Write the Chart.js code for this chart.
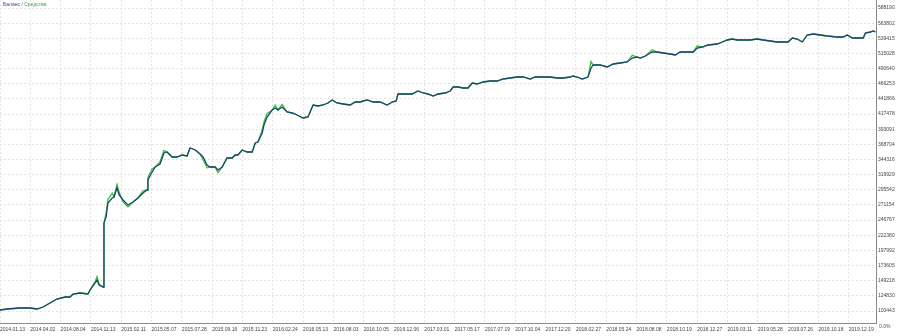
<!DOCTYPE html>
<html>
<head>
<meta charset="utf-8">
<script src="https://cdn.jsdelivr.net/npm/chart.js@4.4.1/dist/chart.umd.min.js"></script>
<style>
html, body { margin: 0; padding: 0; background: #fff; }
</style>
</head>
<body>
<canvas id="graf-balance" width="899" height="336"></canvas>
<script>
// номер сделки (ось X)
const deals = [0, 23, 66, 99, 122, 142, 165, 188, 215, 231, 241, 264, 290, 297, 314, 320, 327, 340, 343, 350,
    356, 370, 376, 386, 393, 406, 422, 439, 455, 472, 485, 488, 502, 512, 528, 541, 551, 568, 584, 601,
    617, 627, 644, 660, 670, 683, 693, 710, 719, 733, 749, 766, 776, 785, 799, 815, 832, 842, 851, 865,
    871, 881, 898, 908, 917, 931, 947, 964, 980, 1000, 1016, 1033, 1049, 1066, 1082, 1096, 1112, 1132, 1155, 1172,
    1188, 1211, 1231, 1254, 1277, 1294, 1307, 1313, 1330, 1360, 1379, 1396, 1412, 1429, 1445, 1469, 1485, 1495, 1511, 1528,
    1544, 1558, 1574, 1594, 1617, 1640, 1660, 1683, 1706, 1726, 1749, 1766, 1792, 1815, 1838, 1858, 1881, 1891, 1904, 1921,
    1940, 1950, 1957, 1980, 2003, 2023, 2046, 2069, 2086, 2102, 2112, 2129, 2152, 2168, 2188, 2211, 2228, 2244, 2267, 2287,
    2300, 2317, 2336, 2366, 2383, 2399, 2416, 2432, 2452, 2475, 2498, 2518, 2541, 2564, 2581, 2600, 2614, 2630, 2647, 2663,
    2683, 2706, 2729, 2762, 2782, 2795, 2812, 2831, 2848, 2855, 2871, 2881, 2888];

const balance = [102060, 103670, 105280, 105280, 103670, 106890, 113330, 119770, 122980, 122980, 127810, 129420, 127810, 134250, 145520, 150350, 142300, 139080, 242100, 251760,
    274300, 282350, 283950, 298440, 287170, 279120, 271080, 275900, 282350, 290390, 295220, 311310, 324190, 332240, 337070, 354770, 356380, 348330, 348330, 351550,
    349940, 362820, 359600, 353160, 348330, 335450, 332240, 332240, 327410, 332240, 346720, 346720, 351550, 351550, 359600, 356380, 356380, 370870, 372480, 386980,
    399860, 412730, 424000, 427220, 424000, 428830, 420780, 419170, 415950, 411120, 412730, 432050, 430440, 432050, 435270, 440100, 435270, 433660, 432050, 436880,
    436880, 440100, 436880, 436880, 432050, 436880, 438490, 449760, 449760, 449760, 454590, 451370, 449760, 446540, 449760, 451370, 454590, 461020, 461020, 459410,
    459410, 467460, 465850, 469070, 470680, 470680, 473900, 475510, 477120, 477120, 473900, 477120, 477120, 477120, 475510, 475510, 477120, 478730, 477120, 473900,
    477120, 491610, 496440, 496440, 493220, 498050, 499660, 501270, 507710, 509320, 507710, 510930, 517360, 517360, 515750, 514140, 512530, 517360, 517360, 517360,
    523800, 525410, 528630, 530240, 533460, 536680, 538290, 536680, 536680, 536680, 538290, 536680, 535070, 533460, 533460, 533460, 539900, 538290, 533460, 544730,
    546340, 544730, 543120, 541510, 541510, 544730, 539900, 539900, 539900, 547950, 549560, 551170, 549560];

const equity = [102060, 103670, 105280, 105280, 103670, 106890, 113330, 119770, 122980, 122980, 127810, 129420, 127810, 134250, 148000, 156000, 144000, 139080, 242100, 258000,
    280000, 290000, 283950, 304000, 292000, 276000, 268000, 275900, 282350, 294000, 295220, 316000, 329000, 332240, 341000, 359000, 356380, 348330, 348330, 351550,
    349940, 362820, 359600, 353160, 344000, 331000, 332240, 332240, 323000, 332240, 346720, 346720, 351550, 351550, 359600, 356380, 356380, 370870, 372480, 392000,
    405000, 418000, 424000, 432000, 424000, 433000, 420780, 419170, 415950, 411120, 412730, 432050, 430440, 432050, 435270, 440100, 435270, 433660, 432050, 436880,
    436880, 440100, 436880, 436880, 432050, 436880, 438490, 449760, 449760, 449760, 454590, 451370, 449760, 446540, 449760, 451370, 454590, 461020, 461020, 459410,
    459410, 467460, 465850, 469070, 470680, 470680, 473900, 475510, 477120, 477120, 473900, 477120, 477120, 477120, 475510, 475510, 477120, 478730, 477120, 473900,
    477120, 502000, 496440, 496440, 493220, 498050, 499660, 501270, 512000, 509320, 507710, 510930, 521000, 517360, 515750, 514140, 512530, 517360, 517360, 517360,
    527000, 525410, 528630, 530240, 533460, 536680, 538290, 536680, 536680, 536680, 538290, 536680, 535070, 533460, 533460, 533460, 539900, 538290, 533460, 544730,
    546340, 544730, 543120, 541510, 541510, 544730, 539900, 539900, 539900, 547950, 549560, 551170, 549560];

const dateLabels = ["2014.01.13", "2014.04.02", "2014.08.04", "2014.11.13", "2015.02.11", "2015.05.07", "2015.07.28", "2015.09.16",
    "2015.11.23", "2016.02.24", "2016.05.13", "2016.08.03", "2016.10.05", "2016.12.06", "2017.03.01", "2017.05.17", "2017.07.19",
    "2017.10.04", "2017.12.20", "2018.02.27", "2018.05.24", "2018.08.08", "2018.10.19", "2018.12.27", "2019.03.11", "2019.05.28",
    "2019.07.26", "2019.10.18", "2019.12.19"];

const yTicks = [100443, 124830, 149218, 173605, 197992, 222380, 246767, 271154, 295542, 319929, 344316,
    368704, 393091, 417478, 441866, 466253, 490640, 515028, 539415, 563802, 588190];

const fontFam = "'Liberation Sans', Arial, sans-serif";

// подписи: легенда сверху и 0.0% внизу справа
const textPlugin = {
    id: "texts",
    afterDraw(chart) {
        const ctx = chart.ctx;
        ctx.save();
        ctx.font = "5px " + fontFam;
        ctx.textBaseline = "middle";
        ctx.textAlign = "left";
        let x = 3;
        const parts = [["Баланс", "#3a4fb0"], [" / ", "#666"], ["Средства", "#3aa63a"]];
        for (const [t, c] of parts) {
            ctx.fillStyle = c;
            ctx.fillText(t, x, 5);
            x += ctx.measureText(t).width;
        }
        ctx.fillStyle = "#555";
        ctx.fillText("0.0%", 879, 327);
        ctx.restore();
    }
};

function noPad(s) {
    s.paddingTop = 0;
    s.paddingBottom = 0;
    s.paddingLeft = 0;
    s.paddingRight = 0;
}

new Chart("graf-balance", {
    type: "line",
    data: {
        datasets: [{
            label: "Баланс",
            data: deals.map((d, i) => ({ x: d, y: balance[i] })),
            borderColor: "#1b4670",
            borderWidth: 1.3,
            order: 0
        }, {
            label: "Средства",
            data: deals.map((d, i) => ({ x: d, y: equity[i] })),
            borderColor: "#3cbf3c",
            borderWidth: 1.3,
            order: 1
        }]
    },
    options: {
        responsive: false,
        animation: false,
        layout: { padding: 0 },
        elements: { point: { radius: 0 }, line: { tension: 0 } },
        plugins: { legend: { display: false }, tooltip: { enabled: false } },
        scales: {
            x: {
                type: "linear",
                min: 0,
                max: 2890,
                afterBuildTicks: s => { s.ticks = dateLabels.map((_, i) => ({ value: i * 100 })); },
                afterFit: s => { s.height = 13; noPad(s); },
                ticks: {
                    align: "start",
                    maxRotation: 0,
                    autoSkip: false,
                    padding: 4,
                    color: "#444",
                    font: { size: 5, family: fontFam },
                    callback: (v, i) => dateLabels[i]
                },
                grid: { color: "#e4e4e4", drawTicks: false },
                border: { color: "#8a8a8a", dash: [2, 2] }
            },
            y: {
                position: "right",
                min: 81130,
                max: 601068,
                afterBuildTicks: s => { s.ticks = yTicks.map(v => ({ value: v })); },
                afterFit: s => { s.width = 23; noPad(s); },
                ticks: {
                    padding: 2,
                    color: "#444",
                    font: { size: 5, family: fontFam },
                    callback: v => String(v)
                },
                grid: { color: "#e4e4e4", drawTicks: false },
                border: { color: "#8a8a8a", dash: [2, 2] }
            }
        }
    },
    plugins: [textPlugin]
});
</script>
</body>
</html>
